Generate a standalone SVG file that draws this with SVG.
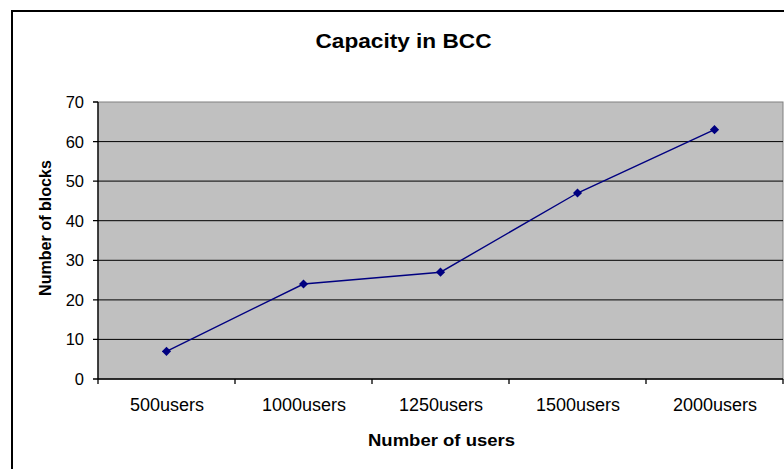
<svg xmlns="http://www.w3.org/2000/svg" width="784" height="469" viewBox="0 0 784 469">
  <style>
    .t { font-family: "Liberation Sans", Arial, sans-serif; fill: #000; }
    .tick { font-size: 16.5px; text-anchor: end; }
    .cat { font-size: 18px; text-anchor: middle; }
    .title { font-weight: bold; text-anchor: middle; }
    .grid { stroke: #000; stroke-width: 1; }
    .axis { stroke: #000; stroke-width: 1.3; fill: none; }
    .series { stroke: #000080; stroke-width: 1.4; fill: none; }
  </style>
  <defs>
    <marker id="dia" viewBox="-5 -5 10 10" markerWidth="10" markerHeight="10" markerUnits="userSpaceOnUse" refX="0" refY="0">
      <path d="M0 -4.6 L4.6 0 L0 4.6 L-4.6 0 Z" fill="#000080"/>
    </marker>
  </defs>

  <!-- chart area -->
  <rect x="0" y="0" width="784" height="469" fill="#fff"/>
  <rect x="12" y="11" width="800" height="500" fill="#fff" stroke="#000" stroke-width="2"/>

  <!-- title -->
  <text class="t title" x="403.5" y="48" font-size="21" textLength="176" lengthAdjust="spacingAndGlyphs">Capacity in BCC</text>

  <!-- plot area -->
  <rect x="98" y="102" width="685" height="277" fill="#C0C0C0" stroke="#808080" stroke-width="1"/>

  <!-- gridlines -->
  <g id="gridlines">
    <line class="grid" x1="98" y1="141.6" x2="783" y2="141.6"/>
    <line class="grid" x1="98" y1="181.1" x2="783" y2="181.1"/>
    <line class="grid" x1="98" y1="220.7" x2="783" y2="220.7"/>
    <line class="grid" x1="98" y1="260.3" x2="783" y2="260.3"/>
    <line class="grid" x1="98" y1="299.9" x2="783" y2="299.9"/>
    <line class="grid" x1="98" y1="339.4" x2="783" y2="339.4"/>
  </g>

  <!-- axes with tick marks -->
  <g id="axes">
    <path class="axis" d="M98 102 V384 M98 379 H783"/>
    <path class="axis" d="M93 102 H98 M93 141.6 H98 M93 181.1 H98 M93 220.7 H98 M93 260.3 H98 M93 299.9 H98 M93 339.4 H98 M93 379 H98"/>
    <path class="axis" d="M235 379 V384 M372 379 V384 M509 379 V384 M646 379 V384 M783 379 V384"/>
  </g>

  <!-- value axis labels -->
  <g id="y-labels" class="t tick">
    <text x="84" y="108">70</text>
    <text x="84" y="147.6">60</text>
    <text x="84" y="187.1">50</text>
    <text x="84" y="226.7">40</text>
    <text x="84" y="266.3">30</text>
    <text x="84" y="305.9">20</text>
    <text x="84" y="345.4">10</text>
    <text x="84" y="385">0</text>
  </g>

  <!-- category labels -->
  <g id="x-labels" class="t cat">
    <text x="167" y="411">500users</text>
    <text x="304" y="411">1000users</text>
    <text x="441" y="411">1250users</text>
    <text x="578" y="411">1500users</text>
    <text x="715" y="411">2000users</text>
  </g>

  <!-- axis titles -->
  <text class="t title" x="441.5" y="446" font-size="17" textLength="147" lengthAdjust="spacingAndGlyphs">Number of users</text>
  <text class="t title" transform="translate(51 228) rotate(-90)" x="0" y="0" font-size="17" textLength="136" lengthAdjust="spacingAndGlyphs">Number of blocks</text>

  <!-- data series -->
  <g id="series">
    <polyline class="series" points="166.5,351.3 303.5,284 440.5,272.2 577.5,193 714.5,129.7" marker-start="url(#dia)" marker-mid="url(#dia)" marker-end="url(#dia)"/>
  </g>
</svg>
